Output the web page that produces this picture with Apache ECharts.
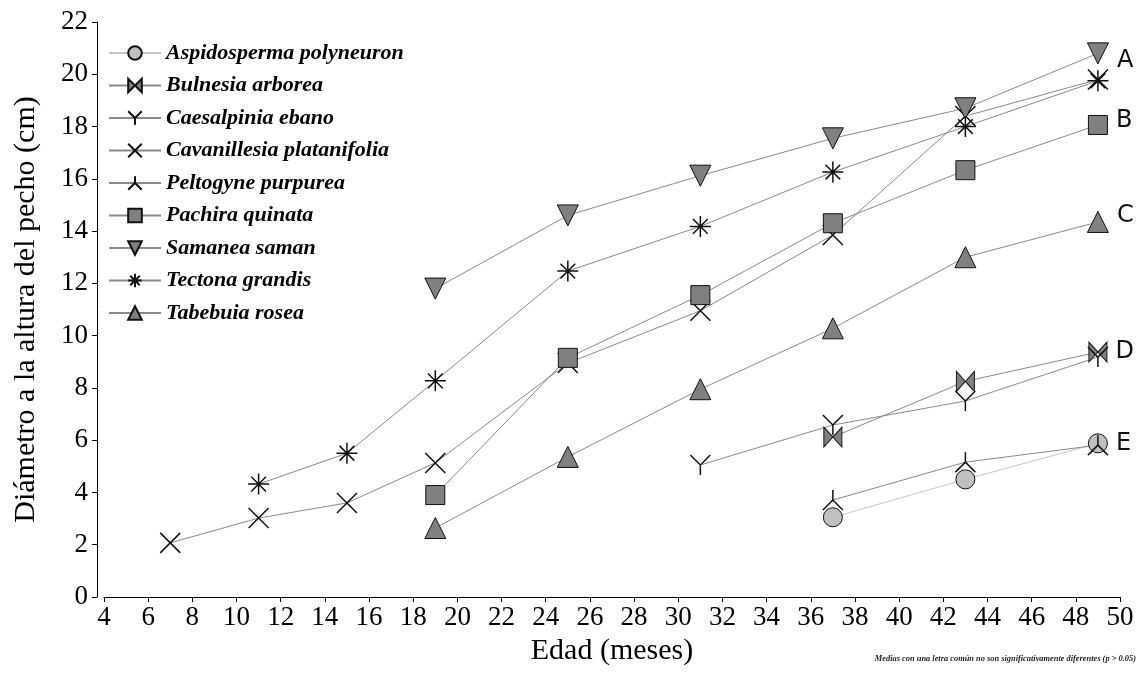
<!DOCTYPE html>
<html lang="es" style="height: 100%">
<head>
  <meta charset="utf-8">
  <title>Diámetro a la altura del pecho por edad</title>
  <script type="text/javascript" src="https://fastly.jsdelivr.net/npm/echarts@6/dist/echarts.min.js"></script>
</head>
<body style="height: 100%; margin: 0; background: #fff">
  <div id="chart" style="width: 1141px; height: 673px"></div>

  <script type="text/javascript">
    var dom = document.getElementById('chart');
    var myChart = echarts.init(dom);

    // edades de medición (meses)
    const edades = [7, 11, 15, 19, 25, 31, 37, 43, 49];

    const especies = [
      'Aspidosperma polyneuron', 'Bulnesia arborea', 'Caesalpinia ebano',
      'Cavanillesia platanifolia', 'Peltogyne purpurea', 'Pachira quinata',
      'Samanea saman', 'Tectona grandis', 'Tabebuia rosea'
    ];

    // DAP (cm) por especie, alineado con edades
    const aspidosperma = [null, null, null, null, null, null, 3.05, 4.5, 5.88];
    const bulnesia = [null, null, null, null, null, null, 6.12, 8.25, 9.37];
    const caesalpinia = [null, null, null, null, null, 5.05, 6.58, 7.5, 9.18];
    const cavanillesia = [2.07, 3.02, 3.6, 5.13, 8.95, 10.95, 13.85, 18.4, 19.8];
    const peltogyne = [null, null, null, null, null, null, 3.71, 5.16, 5.81];
    const pachira = [null, null, null, 3.9, 9.15, 11.55, 14.3, 16.33, 18.06];
    const samanea = [null, null, null, 11.8, 14.6, 16.12, 17.55, 18.7, 20.8];
    const tectona = [null, 4.32, 5.5, 8.27, 12.47, 14.18, 16.26, 18.0, 19.75];
    const tabebuia = [null, null, null, 2.64, 5.36, 7.95, 10.28, 13.0, 14.35];

    const valores = [aspidosperma, bulnesia, caesalpinia, cavanillesia, peltogyne,
                     pachira, samanea, tectona, tabebuia];

    // letras de significancia (al final de cada serie)
    const letras = ['E', 'D', '', '', '', 'B', 'A', '', 'C'];

    const yTicks = [0, 2, 4, 6, 8, 10, 12, 14, 16, 18, 20, 22];

    // marcadores
    const simbolos = [
      'circle',
      'path://M0,0L10,10L0,20ZM20,0L10,10L20,20Z',
      'path://M0,0L10,10L20,0M10,10L10,20',
      'path://M0,0L20,20M20,0L0,20',
      'path://M10,0L10,10M0,20L10,10L20,20',
      'rect',
      'triangle',
      'path://M10,0L10,20M0,10L20,10M3,3L17,17M17,3L3,17',
      'triangle'
    ];
    const tamanos = [19, [18, 20], 20, 20, 20, 19, 21, 21, 21];
    const rotaciones = [0, 0, 0, 0, 0, 0, 180, 0, 0];
    const rellenos = ['#c0c0c0', '#808080', 'transparent', 'transparent', 'transparent',
                      '#808080', '#808080', 'transparent', '#808080'];
    const bordes = [1, 1, 1.5, 1.5, 1.5, 1, 1, 1.5, 1];
    const desfaseLetra = { A: [0, 7], B: [0, -4], C: [0, -6], D: [0, 0], E: [0, 0] };

    const serif = 'Liberation Serif, Times New Roman, serif';

    let series = especies.map((nombre, i) => {
      let datos = [];
      valores[i].forEach((v, k) => {
        if (v === null) return;
        datos.push([edades[k], v]);
      });
      let ultimo = datos.length - 1;
      let data = datos.map((d, k) => {
        if (k === ultimo && letras[i]) {
          return {
            value: d,
            label: {
              show: true,
              position: 'right',
              distance: 8,
              offset: desfaseLetra[letras[i]],
              formatter: letras[i],
              fontFamily: 'DejaVu Sans, sans-serif',
              fontSize: 24,
              color: '#111'
            }
          };
        }
        return d;
      });
      return {
        name: nombre,
        type: 'line',
        data: data,
        symbol: simbolos[i],
        symbolSize: tamanos[i],
        symbolRotate: rotaciones[i],
        showAllSymbol: true,
        lineStyle: { color: i === 0 ? '#c4c4c4' : '#8a8a8a', width: 1 },
        itemStyle: { color: rellenos[i], borderColor: '#111', borderWidth: bordes[i] },
        emphasis: { disabled: true },
        animation: false
      };
    });

    let option = {
      backgroundColor: '#fff',
      animation: false,
      title: {
        text: 'Medias con una letra común no son significativamente diferentes (p > 0.05)',
        right: 0,
        bottom: 5,
        textStyle: {
          fontFamily: serif,
          fontStyle: 'italic',
          fontWeight: 'bold',
          fontSize: 8.4,
          color: '#222'
        }
      },
      legend: {
        orient: 'vertical',
        left: 103,
        top: 37,
        itemWidth: 52,
        itemHeight: 17,
        itemGap: 10.5,
        data: especies,
        textStyle: {
          fontFamily: serif,
          fontStyle: 'italic',
          fontWeight: 'bold',
          fontSize: 22,
          color: '#000'
        }
      },
      grid: { left: 104, right: 21, top: 22, bottom: 76 },
      xAxis: {
        type: 'value',
        min: 4,
        max: 50,
        interval: 2,
        name: 'Edad (meses)',
        nameLocation: 'middle',
        nameGap: 31,
        nameTextStyle: { fontFamily: serif, fontSize: 30, color: '#000' },
        axisLine: { lineStyle: { color: '#000', width: 1 } },
        axisTick: { length: 5, lineStyle: { color: '#000' } },
        axisLabel: { fontFamily: serif, fontSize: 27, color: '#000', margin: 7 },
        splitLine: { show: false }
      },
      yAxis: {
        type: 'value',
        min: yTicks[0],
        max: yTicks[yTicks.length - 1],
        interval: 2,
        offset: 7,
        name: 'Diámetro a la altura del pecho (cm)',
        nameLocation: 'middle',
        nameGap: 56,
        nameTextStyle: { fontFamily: serif, fontSize: 30, color: '#000' },
        axisLine: { show: true, lineStyle: { color: '#000', width: 1 } },
        axisTick: { show: true, length: 5, lineStyle: { color: '#000' } },
        axisLabel: { fontFamily: serif, fontSize: 27, color: '#000', margin: 9 },
        splitLine: { show: false }
      },
      series: series
    };

    myChart.setOption(option);
  </script>
</body>
</html>
